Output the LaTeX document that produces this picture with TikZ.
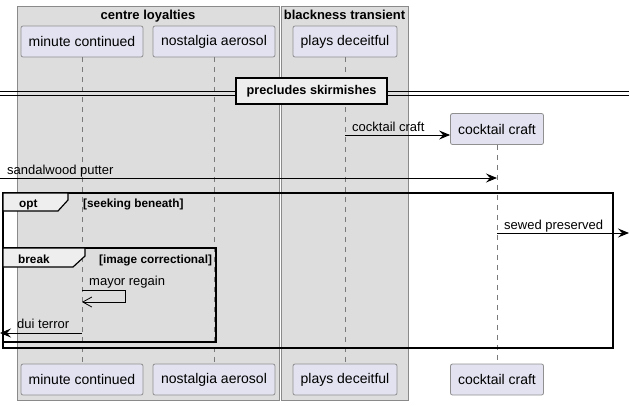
\documentclass[tikz,border=0pt]{standalone}
\usepackage{fontspec}
\setmainfont{Liberation Sans}
\usetikzlibrary{arrows.meta}
\definecolor{grpfill}{HTML}{DDDDDD}
\definecolor{grpline}{HTML}{8A8A8A}
\definecolor{partfill}{HTML}{E2E2F0}
\definecolor{partline}{HTML}{909090}
\definecolor{tabfill}{HTML}{EEEEEE}
\definecolor{lifecol}{HTML}{7A7A7A}
\begin{document}
\begin{tikzpicture}[x=1pt,y=-1pt,
  grpbox/.style={draw=grpline,fill=grpfill,line width=0.8pt},
  grptitle/.style={font=\fontsize{13}{15}\selectfont\bfseries,anchor=base,inner sep=0pt},
  part/.style={draw=partline,fill=partfill,rounded corners=2pt,line width=0.8pt,
    minimum height=31pt,inner sep=0pt,font=\fontsize{14}{16}\selectfont},
  life/.style={draw=lifecol,dash pattern=on 5pt off 5pt,line width=0.7pt},
  msg/.style={draw=black,line width=0.9pt,-{Stealth[length=11pt,width=9pt,inset=4pt]}},
  openmsg/.style={draw=black,line width=0.9pt,-{Straight Barb[length=9pt,width=10pt,line width=0.8pt]}},
  msglabel/.style={font=\fontsize{13}{15}\selectfont,anchor=base west,inner sep=0pt},
  framebox/.style={draw=black,line width=1.6pt},
  tab/.style={draw=black,fill=tabfill,line width=1.2pt},
  framelabel/.style={font=\fontsize{11.8}{14}\selectfont\bfseries,anchor=base west,inner sep=0pt},
  divbox/.style={draw=black,fill=tabfill,line width=1.6pt,minimum width=151pt,minimum height=26pt,
    inner sep=0pt,font=\fontsize{12.7}{15}\selectfont\bfseries}
]
\useasboundingbox (0,0) rectangle (629,405);

% groups
\draw[grpbox] (17,6) rectangle (279,400);
\node[grptitle] (g1) at (148,19) {centre loyalties};
\draw[grpbox] (281,6) rectangle (408,400);
\node[grptitle] (g2) at (344.5,19) {blackness transient};

% participants top
\node[part,minimum width=122pt] (mc) at (82,41.5) {minute continued};
\node[part,minimum width=122pt] (na) at (214,41.5) {nostalgia aerosol};
\node[part,minimum width=104pt] (pd) at (345,41.5) {plays deceitful};
\node[part,minimum width=93pt] (cc) at (497,129) {cocktail craft};
% participants bottom
\node[part,minimum width=122pt] (mcb) at (82,379.5) {minute continued};
\node[part,minimum width=122pt] (nab) at (214,379.5) {nostalgia aerosol};
\node[part,minimum width=104pt] (pdb) at (345,379.5) {plays deceitful};
\node[part,minimum width=93pt] (ccb) at (497,379.5) {cocktail craft};

% lifelines
\draw[life] (mc.south) -- (mcb.north);
\draw[life] (na.south) -- (nab.north);
\draw[life] (pd.south) -- (pdb.north);
\draw[life] (cc.south) -- (ccb.north);

% divider
\draw[line width=0.9pt] (0,91) -- (629,91);
\draw[line width=0.9pt] (0,95) -- (629,95);
\node[divbox] (div) at (311.5,91) {precludes skirmishes};

% message 1
\coordinate (m1s) at (345,135);
\draw[msg] (m1s) -- (cc.west |- m1s);
\node[msglabel] (l1) at (352,131) {cocktail craft};

% message 2
\coordinate (m2s) at (0,178);
\coordinate (m2e) at (497,178);
\draw[msg] (m2s) -- (m2e);
\node[msglabel] (l2) at (7,174) {sandalwood putter};

% opt frame
\draw[framebox] (3,193) rectangle (613,348);
\draw[tab] (3,193) -- (68,193) -- (68,200) -- (58,211) -- (3,211) -- cycle;
\node[framelabel] (optl) at (19,207) {opt};
\node[framelabel] (optc) at (83,207) {[seeking beneath]};

% message 3
\coordinate (m3s) at (497,233);
\coordinate (m3e) at (629,233);
\draw[msg] (m3s) -- (m3e);
\node[msglabel] (l3) at (504,229) {sewed preserved};

% break frame
\draw[framebox] (3,248) rectangle (216,342);
\draw[tab] (3,248) -- (85,248) -- (85,256) -- (73,267) -- (3,267) -- cycle;
\node[framelabel] (brl) at (18,263) {break};
\node[framelabel] (brc) at (99,263) {[image correctional]};

% self message
\coordinate (s1) at (82,290);
\coordinate (s2) at (125,290);
\coordinate (s3) at (125,302);
\coordinate (s4) at (82,302);
\draw[openmsg] (s1) -- (s2) -- (s3) -- (s4);
\node[msglabel] (l4) at (89,285) {mayor regain};

% message 5
\coordinate (m5s) at (82,333);
\coordinate (m5e) at (0,333);
\draw[msg] (m5s) -- (m5e);
\node[msglabel] (l5) at (17,328) {dui terror};

\end{tikzpicture}
\end{document}
